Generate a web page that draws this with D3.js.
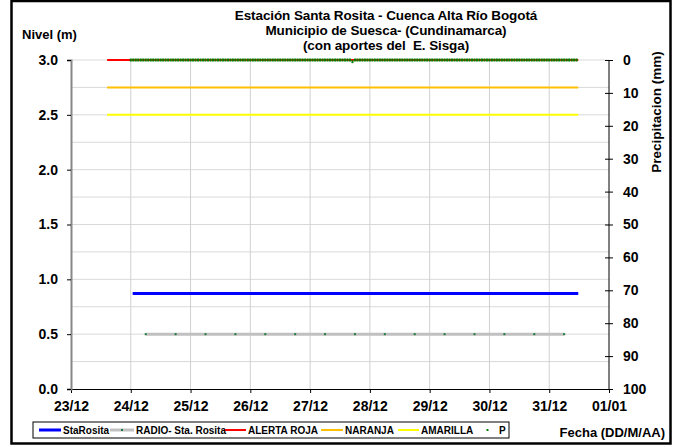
<!DOCTYPE html>
<html>
<head>
<meta charset="utf-8">
<script src="https://cdn.jsdelivr.net/npm/d3@7"></script>
<style>
  body { margin: 0; background: #fff; }
  svg text { font-family: "Liberation Sans", Arial, sans-serif; font-weight: bold; fill: #000; white-space: pre; }
</style>
</head>
<body>
<script>
// ---- data ----
const titleLines = ["Estación Santa Rosita - Cuenca Alta Río Bogotá",
                    "Municipio de Suesca- (Cundinamarca)",
                    "(con aportes del  E. Sisga)"];

const levelTicks = [0, 0.5, 1.0, 1.5, 2.0, 2.5, 3.0];
const precipTicks = [0, 10, 20, 30, 40, 50, 60, 70, 80, 90, 100];
const dayTicks = ["2010-12-23", "2010-12-24", "2010-12-25", "2010-12-26", "2010-12-27",
                  "2010-12-28", "2010-12-29", "2010-12-30", "2010-12-31", "2011-01-01"];

// StaRosita level (m)
const staTimes = ["2010-12-24T00:45", "2010-12-25T00:00", "2010-12-26T00:00", "2010-12-27T00:00",
                  "2010-12-28T00:00", "2010-12-29T00:00", "2010-12-30T00:00", "2010-12-31T00:00",
                  "2010-12-31T11:40"];
const staValues = [0.87, 0.87, 0.87, 0.87, 0.87, 0.87, 0.87, 0.87, 0.87];

// RADIO - Sta. Rosita (m)
const radioTimes = ["2010-12-24T06:00", "2010-12-24T18:00", "2010-12-25T06:00", "2010-12-25T18:00",
                    "2010-12-26T06:00", "2010-12-26T18:00", "2010-12-27T06:00", "2010-12-27T18:00",
                    "2010-12-28T06:00", "2010-12-28T18:00", "2010-12-29T06:00", "2010-12-29T18:00",
                    "2010-12-30T06:00", "2010-12-30T18:00", "2010-12-31T06:00"];
const radioValues = [0.5, 0.5, 0.5, 0.5, 0.5, 0.5, 0.5, 0.5, 0.5, 0.5, 0.5, 0.5, 0.5, 0.5, 0.5];

// alert thresholds (m)
const alertNames = ["ALERTA ROJA", "NARANJA", "AMARILLA"];
const alertValues = [3.0, 2.75, 2.5];
const alertStart = "2010-12-23T14:30";
const alertEnd = "2010-12-31T11:40";

// P precipitation (mm), hourly from 24/12 00:00
const pStart = "2010-12-24T00:00";
const pValues = [
  0,0,0,0,0,0,0,0,0,0,0,0,0,0,0,0,0,0,0,0,0,0,0,0,
  0,0,0,0,0,0,0,0,0,0,0,0,0,0,0,0,0,0,0,0,0,0,0,0,
  0,0,0,0,0,0,0,0,0,0,0,0,0,0,0,0,0,0,0,0,0,0,0,0,
  0,0,0,0,0,0,0,0,0,0,0,0,0,0,0,0,0,0.5,0,0,0,0,0,0,
  0,0,0,0,0,0,0,0,0,0,0,0,0,0,0,0,0,0,0,0,0,0,0,0,
  0,0,0,0,0,0,0,0,0,0,0,0,0,0,0,0,0,0,0,0,0,0,0,0,
  0,0,0,0,0,0,0,0,0,0,0,0,0,0,0,0,0,0,0,0,0,0,0,0,
  0,0,0,0,0,0,0,0,0,0,0,0
];

// ---- layout ----
const W = 679, H = 447;
const margin = {left: 71, right: 70, top: 60, bottom: 58};
const width = W - margin.left - margin.right;
const height = H - margin.top - margin.bottom;

const parse = d3.isoParse;
const colors = {sta: "#0000ff", radio: "#c0c0c0", radioDot: "#1e7a3c",
                alerts: ["#ff0000", "#ffc000", "#ffff00"], p: "#008000"};

let svg = d3.select("body").append("svg")
    .attr("width", W)
    .attr("height", H);

svg.append("rect")
    .attr("x", 11.5).attr("y", 1)
    .attr("width", 659).attr("height", 442.5)
    .attr("fill", "#fff")
    .attr("stroke", "#000")
    .attr("stroke-width", 2.5);

let g = svg.append("g")
    .attr("transform", "translate(" + margin.left + "," + margin.top + ")");

let x = d3.scaleTime()
    .domain([parse(dayTicks[0]), parse(dayTicks[dayTicks.length - 1])])
    .range([0, width]);

let y = d3.scaleLinear()
    .domain([0, 3])
    .range([height, 0]);

let y2 = d3.scaleLinear()
    .domain([0, 100])
    .range([0, height]);

// grid
g.append("g")
    .selectAll("line")
    .data(d3.range(1, 13).map(i => i * 0.25))
    .join("line")
    .attr("x1", 0).attr("x2", width)
    .attr("y1", d => y(d)).attr("y2", d => y(d))
    .attr("stroke", "#d9d9d9");

g.append("g")
    .selectAll("line")
    .data(dayTicks.slice(1, -1).map(parse))
    .join("line")
    .attr("x1", d => x(d)).attr("x2", d => x(d))
    .attr("y1", 0).attr("y2", height)
    .attr("stroke", "#d0d0d0");

// axes
let xAxis = d3.axisBottom(x)
    .tickValues(dayTicks.map(parse))
    .tickFormat(d3.timeFormat("%d/%m"))
    .tickSize(4)
    .tickPadding(8);

let yAxis = d3.axisLeft(y)
    .tickValues(levelTicks)
    .tickFormat(d3.format(".1f"))
    .tickSize(4)
    .tickPadding(9);

let y2Axis = d3.axisRight(y2)
    .tickValues(precipTicks)
    .tickSize(4)
    .tickPadding(10);

g.append("g")
    .attr("transform", "translate(0," + height + ")")
    .call(xAxis)
    .call(a => a.selectAll("text").style("font-size", "14px"));

g.append("g")
    .call(yAxis)
    .call(a => a.select(".domain").attr("stroke", "#888").attr("stroke-width", 2))
    .call(a => a.selectAll("text").style("font-size", "14px"));

g.append("g")
    .attr("transform", "translate(" + width + ",0)")
    .call(y2Axis)
    .call(a => a.select(".domain").attr("d", "M0,0V" + height))
    .call(a => a.selectAll(".tick line").attr("x1", -4))
    .call(a => a.selectAll("text").style("font-size", "14px"));

// series
let line = d3.line()
    .x(d => x(d[0]))
    .y(d => y(d[1]));

alertValues.forEach((v, i) => {
    g.append("path")
        .datum([[parse(alertStart), v], [parse(alertEnd), v]])
        .attr("d", line)
        .attr("fill", "none")
        .attr("stroke", colors.alerts[i])
        .attr("stroke-width", 2);
});

g.append("path")
    .datum(staTimes.map((t, i) => [parse(t), staValues[i]]))
    .attr("d", line)
    .attr("fill", "none")
    .attr("stroke", colors.sta)
    .attr("stroke-width", 3);

let radioData = radioTimes.map((t, i) => [parse(t), radioValues[i]]);
g.append("path")
    .datum(radioData)
    .attr("d", line)
    .attr("fill", "none")
    .attr("stroke", colors.radio)
    .attr("stroke-width", 3);
g.append("g")
    .selectAll("rect")
    .data(radioData)
    .join("rect")
    .attr("x", d => x(d[0]) - 1).attr("y", d => y(d[1]) - 1)
    .attr("width", 2).attr("height", 2)
    .attr("fill", colors.radioDot);

let p0 = parse(pStart);
let pData = pValues.map((v, i) => [d3.timeHour.offset(p0, i), v]);
g.append("g")
    .selectAll("rect")
    .data(pData)
    .join("rect")
    .attr("x", d => x(d[0]) - 1).attr("y", d => y2(d[1]) - 1.5)
    .attr("width", 2).attr("height", 3)
    .attr("fill", colors.p);

// titles
svg.append("g")
    .selectAll("text")
    .data(titleLines)
    .join("text")
    .attr("x", 386)
    .attr("y", (d, i) => 20 + i * 15)
    .attr("text-anchor", "middle")
    .style("font-size", "13.5px")
    .style("letter-spacing", "-0.1px")
    .text(d => d);

svg.append("text")
    .attr("x", 22).attr("y", 39)
    .style("font-size", "13px")
    .text("Nivel (m)");

svg.append("text")
    .attr("transform", "translate(661,112) rotate(-90)")
    .attr("text-anchor", "middle")
    .style("font-size", "13.5px")
    .text("Precipitacion (mm)");

svg.append("text")
    .attr("x", 665).attr("y", 437)
    .attr("text-anchor", "end")
    .style("font-size", "13px")
    .text("Fecha (DD/M/AA)");

// legend
let legend = svg.append("g");
legend.append("rect")
    .attr("x", 33).attr("y", 422)
    .attr("width", 476).attr("height", 16)
    .attr("fill", "#fff")
    .attr("stroke", "#000");

let legendItems = [
    {name: "StaRosita", color: colors.sta, w: 3, x0: 39, x1: 61},
    {name: "RADIO- Sta. Rosita", color: colors.radio, w: 3, x0: 110, x1: 134, dot: colors.radioDot},
    {name: "ALERTA ROJA", color: colors.alerts[0], w: 2, x0: 225, x1: 246},
    {name: "NARANJA", color: colors.alerts[1], w: 2, x0: 321, x1: 343},
    {name: "AMARILLA", color: colors.alerts[2], w: 2, x0: 398, x1: 419},
    {name: "P", color: null, x0: 478, x1: 497, dot: colors.p}
];
legendItems.forEach(it => {
    if (it.color) {
        legend.append("line")
            .attr("x1", it.x0).attr("x2", it.x1)
            .attr("y1", 430).attr("y2", 430)
            .attr("stroke", it.color)
            .attr("stroke-width", it.w);
    }
    if (it.dot) {
        legend.append("rect")
            .attr("x", (it.x0 + it.x1) / 2 - 1).attr("y", 429)
            .attr("width", 2).attr("height", 2)
            .attr("fill", it.dot);
    }
    legend.append("text")
        .attr("x", it.x1 + 2).attr("y", 434)
        .style("font-size", "10px")
        .text(it.name);
});
</script>
</body>
</html>
